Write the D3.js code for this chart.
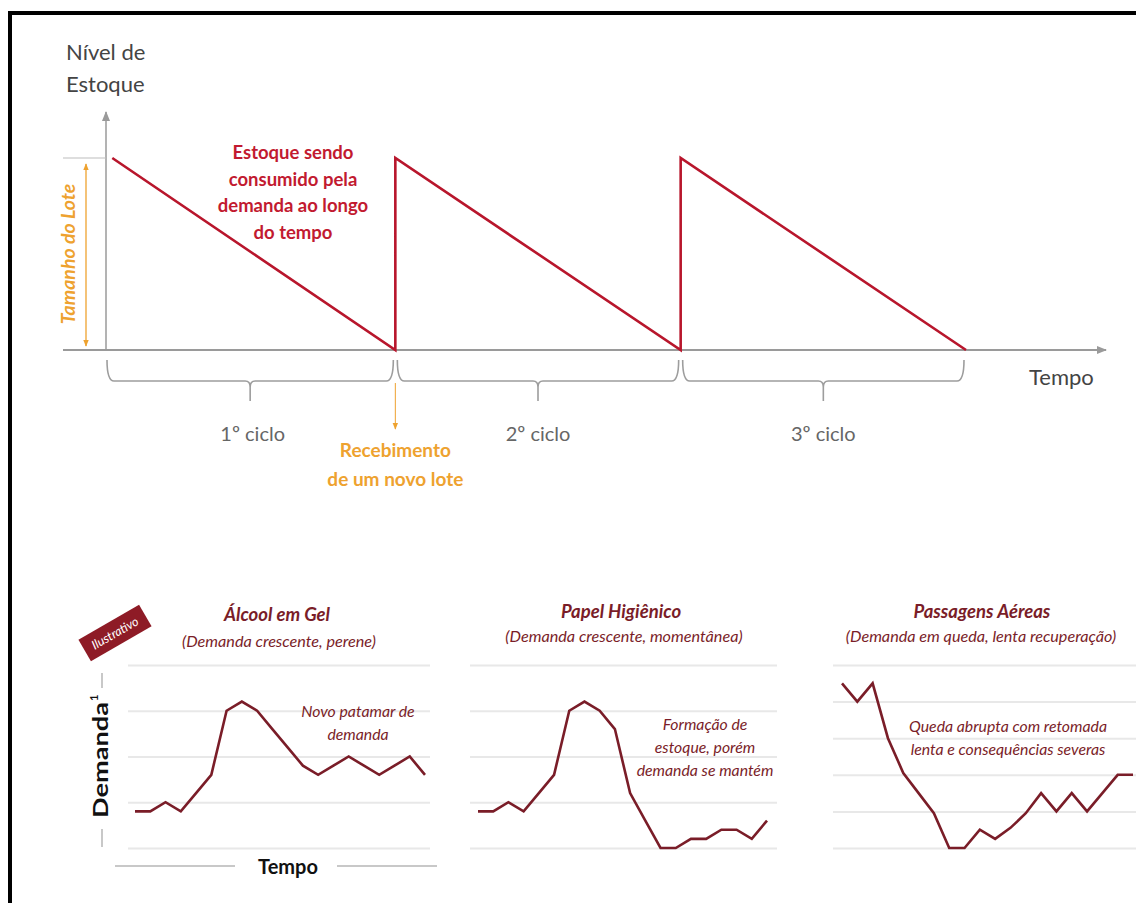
<!DOCTYPE html>
<html lang="pt-BR">
<head>
<meta charset="utf-8">
<script src="https://cdn.jsdelivr.net/npm/d3@7"></script>
<style>
  html, body { margin: 0; padding: 0; background: #fff; }
  svg { display: block; }
  text { font-family: Lato, "Open Sans", sans-serif; }
</style>
</head>
<body>
<svg id="chart" width="1136" height="903"></svg>
<script>
// ---- Top diagram: inventory sawtooth (lot size normalised to 1) ----
const cycleLabels = ["1º ciclo", "2º ciclo", "3º ciclo"];
const cycleStarts = [0, 1, 2];          // time at which each lot is received
const lotSize = 1;                       // stock level right after receiving a lot

// ---- Bottom panels: illustrative demand curves ----
const panelTitles = ["Álcool em Gel", "Papel Higiênico", "Passagens Aéreas"];
const panelSubtitles = [
  "(Demanda crescente, perene)",
  "(Demanda crescente, momentânea)",
  "(Demanda em queda, lenta recuperação)"
];
const panelNotes = [
  ["Novo patamar de", "demanda"],
  ["Formação de", "estoque, porém", "demanda se mantém"],
  ["Queda abrupta com retomada", "lenta e consequências severas"]
];
const alcoolGel = [0.8, 0.8, 1.0, 0.8, 1.2, 1.6, 3.0, 3.2, 3.0, 2.6, 2.2, 1.8, 1.6, 1.8, 2.0, 1.8, 1.6, 1.8, 2.0, 1.6];
const papelHigienico = [0.8, 0.8, 1.0, 0.8, 1.2, 1.6, 3.0, 3.2, 3.0, 2.6, 1.2, 0.6, 0.0, 0.0, 0.2, 0.2, 0.4, 0.4, 0.2, 0.6];
const passagensAereas = [4.5, 4.0, 4.5, 3.0, 2.05, 1.5, 0.95, 0.0, 0.0, 0.5, 0.25, 0.55, 0.95, 1.5, 1.0, 1.5, 1.0, 1.5, 2.0, 2.0];
const gridTop = [4, 4, 5];               // top gridline value of each panel

const svg = d3.select("#chart");

const RED = "#b8162c", RED_TEXT = "#c21a30", ORANGE = "#eea22f",
      AXIS = "#9a9a9a", MAROON = "#7a1d28", GRID = "#e8e8e8", DARK = "#444";

// arrow markers
const defs = svg.append("defs");
function marker(id, color, size) {
  defs.append("marker").attr("id", id)
    .attr("viewBox", "0 0 10 10").attr("refX", 9).attr("refY", 5)
    .attr("markerWidth", size).attr("markerHeight", size)
    .attr("orient", "auto-start-reverse").attr("markerUnits", "userSpaceOnUse")
    .append("path").attr("d", "M0,1 L10,5 L0,9 Z").attr("fill", color);
}
marker("arrGray", AXIS, 10);
marker("arrOrange", ORANGE, 7);

// frame
svg.append("rect").attr("x", 8).attr("y", 11).attr("width", 1128).attr("height", 4).attr("fill", "#000");
svg.append("rect").attr("x", 8).attr("y", 11).attr("width", 4).attr("height", 892).attr("fill", "#000");

// ================= Top chart =================
const x = d3.scaleLinear().domain([0, 3]).range([110, 966]);
const y = d3.scaleLinear().domain([0, lotSize]).range([350, 158]);
const stockChart = svg.append("g");

// axes
stockChart.append("line").attr("x1", 63).attr("x2", 1106).attr("y1", y(0)).attr("y2", y(0))
  .attr("stroke", AXIS).attr("stroke-width", 2).attr("marker-end", "url(#arrGray)");
stockChart.append("line").attr("x1", 106).attr("x2", 106).attr("y1", y(0)).attr("y2", 112)
  .attr("stroke", AXIS).attr("stroke-width", 1.5).attr("marker-end", "url(#arrGray)");
stockChart.append("line").attr("x1", 63).attr("x2", 106).attr("y1", y(lotSize)).attr("y2", y(lotSize))
  .attr("stroke", "#bdbdbd").attr("stroke-width", 1.2);

// lot size arrow
stockChart.append("line").attr("x1", 86).attr("x2", 86).attr("y1", y(lotSize) + 6).attr("y2", y(0) - 4)
  .attr("stroke", ORANGE).attr("stroke-width", 1.3)
  .attr("marker-start", "url(#arrOrange)").attr("marker-end", "url(#arrOrange)");
stockChart.append("text").attr("transform", `translate(75,${(y(0) + y(lotSize)) / 2}) rotate(-90)`)
  .attr("text-anchor", "middle").attr("font-size", 19.5).attr("font-weight", 700)
  .attr("font-style", "italic").attr("fill", ORANGE).text("Tamanho do Lote");

// sawtooth
const stock = [];
cycleStarts.forEach(t => { stock.push([t, lotSize]); stock.push([t + 1, 0]); });
stock[0] = [0.008, lotSize];
stockChart.append("path").datum(stock)
  .attr("d", d3.line().x(d => x(d[0])).y(d => y(d[1])))
  .attr("fill", "none").attr("stroke", RED).attr("stroke-width", 2.6).attr("stroke-linejoin", "miter");

// annotation
const consumo = ["Estoque sendo", "consumido pela", "demanda ao longo", "do tempo"];
stockChart.append("text").attr("font-size", 18.5).attr("font-weight", 700).attr("fill", RED_TEXT)
  .attr("text-anchor", "middle")
  .selectAll("tspan").data(consumo).join("tspan")
  .attr("x", 293).attr("y", (d, i) => 159 + i * 26.5).text(d => d);

// axis titles
stockChart.append("text").attr("font-size", 22).attr("fill", DARK)
  .selectAll("tspan").data(["Nível de", "Estoque"]).join("tspan")
  .attr("x", 66).attr("y", (d, i) => 60 + i * 32).text(d => d);
stockChart.append("text").attr("x", 1029).attr("y", 385).attr("font-size", 22).attr("fill", DARK).text("Tempo");

// cycle braces
const bY = 381, bTop = 360, bTip = 401;
function brace(x0, x1) {
  const xm = (x0 + x1) / 2;
  return `M${x0},${bTop} Q${x0},${bY} ${x0 + 7},${bY} L${xm - 5},${bY} Q${xm},${bY} ${xm},${bY + 6} L${xm},${bTip}` +
         ` M${xm},${bY + 6} Q${xm},${bY} ${xm + 5},${bY} L${x1 - 7},${bY} Q${x1},${bY} ${x1},${bTop}`;
}
const braces = stockChart.append("g");
cycleStarts.forEach((t, i) => {
  const x0 = x(t) + (i === 0 ? -3 : 2), x1 = x(t + 1) - 2;
  braces.append("path").attr("d", brace(x0, x1))
    .attr("fill", "none").attr("stroke", "#9d9d9d").attr("stroke-width", 1.6);
  braces.append("text").attr("x", (x(t) + x(t + 1)) / 2).attr("y", 441)
    .attr("text-anchor", "middle").attr("font-size", 20).attr("fill", "#666").text(cycleLabels[i]);
});

// receiving a new lot
stockChart.append("line").attr("x1", x(1)).attr("x2", x(1)).attr("y1", 383).attr("y2", 429)
  .attr("stroke", ORANGE).attr("stroke-width", 1).attr("marker-end", "url(#arrOrange)");
stockChart.append("text").attr("font-size", 19).attr("font-weight", 700).attr("fill", ORANGE)
  .attr("text-anchor", "middle")
  .selectAll("tspan").data(["Recebimento", "de um novo lote"]).join("tspan")
  .attr("x", x(1)).attr("y", (d, i) => 457 + i * 29).text(d => d);

// ================= Bottom panels =================
const panels = [
  { data: alcoolGel, grid: [128, 430], line: [135, 425], cx: 277, sub: 279, ty: [621, 647], note: [358, 717] },
  { data: papelHigienico, grid: [470, 777], line: [478, 767], cx: 621, sub: 624, ty: [618, 642], note: [705, 730] },
  { data: passagensAereas, grid: [833, 1136], line: [842, 1133], cx: 982, sub: 981, ty: [618, 642], note: [1008, 732] }
];
const gridY0 = 848, gridY1 = 665;

panels.forEach((p, i) => {
  const g = svg.append("g");
  const px = d3.scaleLinear().domain([0, p.data.length - 1]).range(p.line);
  const py = d3.scaleLinear().domain([0, gridTop[i]]).range([gridY0, gridY1]);

  // horizontal gridlines from a left axis with full-width ticks
  const ax = g.append("g").attr("transform", `translate(${p.grid[0]},0)`)
    .call(d3.axisLeft(py).ticks(gridTop[i]).tickSize(-(p.grid[1] - p.grid[0])).tickFormat(""));
  ax.select(".domain").remove();
  ax.selectAll(".tick line").attr("stroke", GRID).attr("stroke-width", 2);

  g.append("path").datum(p.data)
    .attr("d", d3.line().x((d, j) => px(j)).y(d => py(d)))
    .attr("fill", "none").attr("stroke", MAROON).attr("stroke-width", 2.6).attr("stroke-linejoin", "miter");

  g.append("text").attr("x", p.cx).attr("y", p.ty[0])
    .attr("text-anchor", "middle").attr("font-size", 18.5).attr("font-weight", 700)
    .attr("font-style", "italic").attr("fill", MAROON).text(panelTitles[i]);
  g.append("text").attr("x", p.sub).attr("y", p.ty[1])
    .attr("text-anchor", "middle").attr("font-size", 16.2).attr("font-style", "italic")
    .attr("fill", MAROON).text(panelSubtitles[i]);

  g.append("text").attr("font-size", 15.8).attr("font-style", "italic").attr("fill", MAROON)
    .attr("text-anchor", "middle")
    .selectAll("tspan").data(panelNotes[i]).join("tspan")
    .attr("x", p.note[0]).attr("y", (d, j) => p.note[1] + j * 23).text(d => d);
});

// shared axis labels of the first panel
const lab = svg.append("g");
lab.append("line").attr("x1", 102).attr("x2", 102).attr("y1", 673).attr("y2", 688).attr("stroke", "#c8c8c8").attr("stroke-width", 2);
lab.append("line").attr("x1", 102).attr("x2", 102).attr("y1", 829).attr("y2", 847).attr("stroke", "#c8c8c8").attr("stroke-width", 2);
lab.append("text").attr("transform", "translate(108,818) rotate(-90)")
  .attr("text-anchor", "start").attr("font-size", 21).attr("font-weight", 700).attr("fill", "#111")
  .attr("textLength", 116).attr("lengthAdjust", "spacingAndGlyphs")
  .text("Demanda");
lab.append("text").attr("transform", "translate(98,701) rotate(-90)")
  .attr("text-anchor", "start").attr("font-size", 11).attr("font-weight", 700).attr("fill", "#111")
  .text("1");
lab.append("line").attr("x1", 115).attr("x2", 235).attr("y1", 866).attr("y2", 866).attr("stroke", "#c8c8c8").attr("stroke-width", 2);
lab.append("line").attr("x1", 337).attr("x2", 437).attr("y1", 866).attr("y2", 866).attr("stroke", "#c8c8c8").attr("stroke-width", 2);
lab.append("text").attr("x", 288).attr("y", 874).attr("text-anchor", "middle")
  .attr("font-size", 20).attr("font-weight", 700).attr("fill", "#111").text("Tempo");

// "Ilustrativo" tag
const tag = svg.append("g").attr("transform", "translate(115,633) rotate(-30)");
tag.append("rect").attr("x", -35).attr("y", -12.5).attr("width", 70).attr("height", 25).attr("fill", "#8e1b26");
tag.append("text").attr("x", 0).attr("y", 4.5).attr("text-anchor", "middle")
  .attr("font-size", 12.5).attr("font-style", "italic").attr("fill", "#fff").text("Ilustrativo");
</script>
</body>
</html>
